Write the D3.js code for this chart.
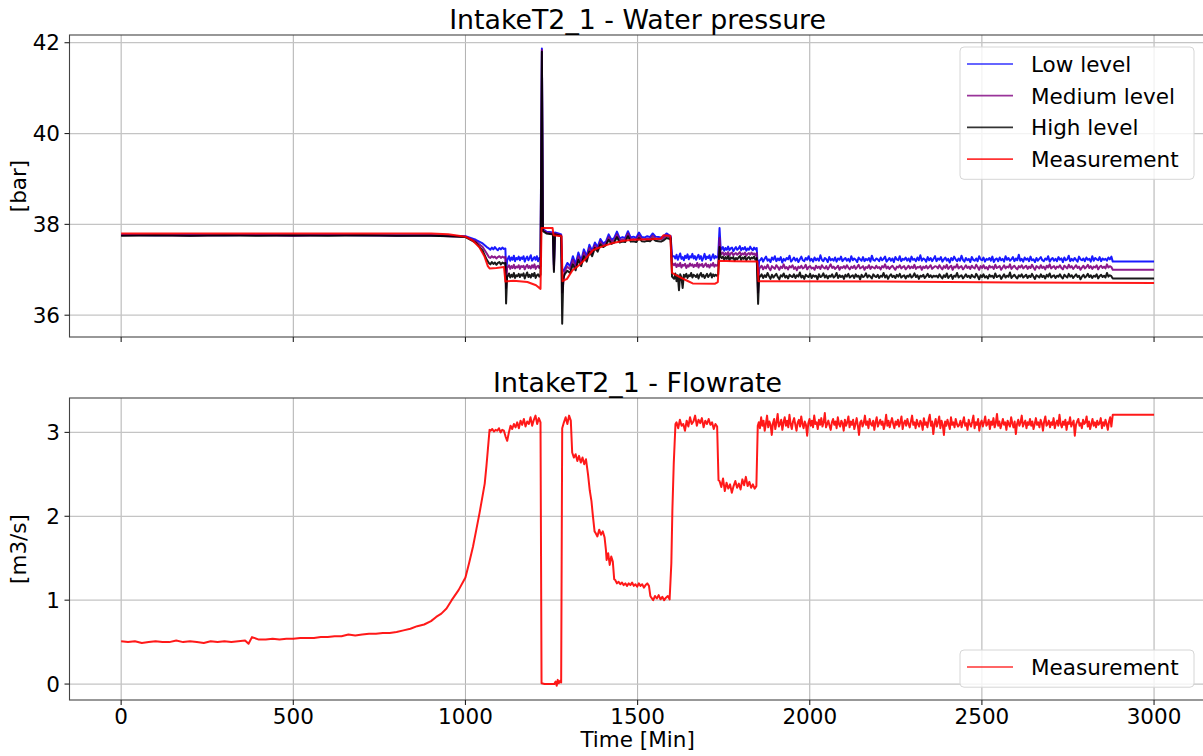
<!DOCTYPE html>
<html>
<head>
<script src="https://d3js.org/d3.v7.min.js"></script>
<style>
  body { margin: 0; background: #fff; }
  svg text { font-family: "DejaVu Sans", sans-serif; fill: #000; }
</style>
</head>
<body>
<svg id="chart"></svg>
<script>
// ---- data (minutes, value) ----
// an item is either [t, v] or a run [t0, t1, [v...]] sampled evenly from t0 to t1
const xTicks = [0, 500, 1000, 1500, 2000, 2500, 3000];
const pressureTicks = [36, 38, 40, 42];
const flowTicks = [0, 1, 2, 3];
const pressureNames = ['Low level', 'Medium level', 'High level', 'Measurement'];
const flowNames = ['Measurement'];

const lowLevel = [
  [0,37.77],[100,37.76],[200,37.77],[300,37.76],[400,37.77],[500,37.76],[600,37.77],[700,37.76],[800,37.76],[900,37.76],
  [950,37.75],[1000,37.74],[1030,37.66],[1050,37.58],[1062,37.5],
  [1068,1116,[37.47,37.44,37.49,37.45,37.5,37.46,37.43,37.48,37.45,37.49,37.46,37.47]],
  [1118,36.95],[1121,37.2],
  [1123,1218,[37.24,37.3,37.2,37.27,37.22,37.31,37.19,37.26,37.23,37.29,37.21,37.27,37.24,37.3,
    37.18,37.25,37.29,37.21,37.26,37.32,37.2,37.24,37.28,37.22,37.3,37.19,37.26,37.23]],
  [1222,41.87],[1225,37.9],[1235,37.84],[1245,37.83],[1254,37.82],[1257,37.1],[1260,37.82],[1270,37.8],[1278,37.78],[1281,36.95],
  [1288,1592,[37.02,37.15,37.08,37.3,37.12,37.38,37.2,37.45,37.3,37.55,37.42,37.6,37.5,37.68,37.58,37.62,37.78,37.66,37.7,37.84,
    37.69,37.72,37.7,37.85,37.71,37.73,37.7,37.82,37.72,37.71,37.74,37.72,37.8,37.73,37.72,37.71,37.74,37.8,37.76]],
  [1596,37.74],[1600,37.3],
  [1606,1730,[37.3,37.25,37.33,37.22,37.29,37.36,37.24,37.28,37.21,37.31,37.26,37.34,37.23,37.3,37.27,37.35,37.25,37.3,
    37.22,37.28,37.33,37.24,37.3,37.2,37.27,37.35,37.23,37.29,37.26,37.32,37.21,37.28,37.34,37.25,37.3,37.27]],
  [1734,37.3],[1738,37.92],[1741,37.5],
  [1744,1846,[37.45,37.5,37.42,37.48,37.44,37.51,37.43,37.47,37.49,37.41,37.46,37.5,37.44,37.47,
    37.52,37.43,37.48,37.45,37.5,37.42,37.47,37.44,37.51,37.46,37.43,37.49,37.45,37.48]],
  [1850,36.9],[1853,37.2],
  [1856,2876,[37.21,37.26,37.18,37.24,37.29,37.2,37.23,37.17,37.27,37.22,37.3,37.19,37.25,37.21,37.28,37.16,37.24,37.2,37.26,37.23,
    37.31,37.18,37.22,37.27,37.2,37.25,37.17,37.23,37.29,37.21,37.19,37.26,37.22,37.3,37.2,37.24,37.18,37.27,37.21,37.25,
    37.2,37.32,37.22,37.19,37.26,37.23,37.17,37.28,37.21,37.24,37.2,37.27,37.18,37.25,37.22,37.29,37.19,37.23,37.26,37.2,
    37.24,37.18,37.3,37.21,37.25,37.22,37.17,37.27,37.23,37.2,37.28,37.19,37.24,37.21,37.26,37.18,37.31,37.22,37.2,37.25,
    37.23,37.19,37.27,37.21,37.24,37.29,37.18,37.22,37.26,37.2,37.25,37.17,37.28,37.23,37.21,37.3,37.19,37.24,37.22,37.27,
    37.2,37.25,37.18,37.29,37.22,37.24,37.19,37.27,37.21,37.32,37.2,37.25,37.23,37.18,37.28,37.21,37.26,37.19,37.24,37.3,
    37.19,37.25,37.22,37.28,37.18,37.23,37.27,37.2,37.24,37.16,37.26,37.21,37.29,37.23,37.19,37.25,37.2,37.31,37.22,37.18,
    37.26,37.21,37.24,37.17,37.28,37.22,37.2,37.25,37.19,37.3,37.23,37.21,37.27,37.18,37.24,37.22,37.26,37.2,37.29,37.17,
    37.23,37.25,37.19,37.27,37.21,37.24,37.18,37.3,37.22,37.26,37.2,37.23,37.28,37.19,37.25,37.21,37.33,37.2,37.24,37.18,
    37.27,37.22,37.25,37.19,37.29,37.21,37.23,37.17,37.26,37.2,37.24,37.28,37.21,37.19,37.25,37.22,37.3,37.18,37.23,37.26,
    37.2,37.24,37.19,37.28,37.22,37.25,37.17,37.27,37.21,37.23,37.31,37.19,37.24,37.2,37.26,37.22,37.18,37.29,37.23,37.21,
    37.25,37.19,37.27,37.22,37.24,37.18,37.3,37.2,37.26,37.23,37.21,37.28,37.19,37.25,37.22,37.24,37.2,37.27,37.23,37.29]],
  [2880,37.18],[3000,37.18]
];

const mediumLevel = [
  [0,37.76],[100,37.76],[200,37.75],[300,37.76],[400,37.76],[500,37.75],[600,37.76],[700,37.76],[800,37.75],[900,37.76],
  [950,37.74],[1000,37.73],[1030,37.63],[1050,37.5],[1062,37.36],
  [1068,1116,[37.28,37.26,37.3,37.27,37.29,37.25,37.28,37.3,37.26,37.29,37.27,37.28]],
  [1118,36.6],[1121,37.05],
  [1123,1218,[37.06,37.1,37.02,37.08,37.04,37.11,37.03,37.07,37.05,37.1,37.02,37.08,37.06,37.09,
    37.01,37.07,37.11,37.04,37.08,37.03,37.1,37.05,37.12,37.02,37.07,37.09,37.04,37.08]],
  [1222,41.84],[1225,37.88],[1235,37.82],[1245,37.81],[1254,37.8],[1257,37.0],[1260,37.8],[1270,37.78],[1278,37.76],[1281,36.5],
  [1288,1592,[36.96,37.07,37.01,37.22,37.05,37.3,37.14,37.38,37.24,37.48,37.36,37.54,37.45,37.62,37.54,37.58,37.72,37.62,37.65,37.78,
    37.65,37.67,37.66,37.8,37.67,37.68,37.66,37.76,37.68,37.67,37.69,37.68,37.75,37.69,37.68,37.67,37.7,37.75,37.72]],
  [1596,37.72],[1600,37.15],
  [1606,1730,[37.1,37.14,37.06,37.12,37.08,37.15,37.05,37.11,37.09,37.13,37.04,37.1,37.07,37.14,37.09,37.12,37.06,37.11,
    37.08,37.15,37.05,37.12,37.09,37.13,37.06,37.1,37.14,37.07,37.11,37.05,37.12,37.09,37.15,37.07,37.11,37.09]],
  [1734,37.12],[1738,37.7],[1741,37.38],
  [1744,1846,[37.35,37.38,37.32,37.37,37.33,37.39,37.31,37.36,37.38,37.32,37.35,37.37,37.33,37.36,
    37.39,37.32,37.36,37.34,37.38,37.31,37.35,37.37,37.33,37.38,37.34,37.36,37.32,37.37]],
  [1850,36.5],[1853,37.02],
  [1856,2876,[37.05,37.09,37.01,37.07,37.03,37.11,37.04,36.99,37.08,37.05,37.02,37.1,37.06,37.0,37.07,37.04,37.12,37.03,37.06,37.01,
    37.08,37.05,37.1,37.02,37.06,36.99,37.07,37.04,37.09,37.03,37.05,37.11,37.01,37.06,37.08,37.03,37.05,37.0,37.09,37.04,
    37.07,37.02,37.1,37.05,37.03,37.08,37.01,37.06,37.12,37.04,37.07,37.02,37.05,37.09,37.0,37.06,37.04,37.08,37.03,37.1,
    37.05,37.01,37.07,37.04,37.09,37.02,37.06,37.11,37.03,37.05,37.08,37.0,37.06,37.04,37.1,37.02,37.07,37.05,37.03,37.09,
    37.04,37.06,37.01,37.08,37.05,37.12,37.03,37.07,37.02,37.06,37.09,37.04,37.0,37.07,37.05,37.1,37.03,37.06,37.08,37.01,
    37.05,37.09,37.03,37.07,37.04,37.11,37.02,37.06,37.05,37.08,37.0,37.07,37.04,37.09,37.03,37.06,37.1,37.02,37.05,37.08,
    37.07,37.03,37.1,37.05,37.01,37.08,37.04,37.11,37.02,37.06,37.09,37.0,37.07,37.05,37.12,37.03,37.06,37.08,37.01,37.05,
    37.1,37.04,37.07,37.02,37.09,37.05,37.03,37.11,37.06,37.0,37.08,37.04,37.1,37.03,37.06,37.01,37.09,37.05,37.07,37.02,
    37.11,37.04,37.06,37.08,37.0,37.05,37.1,37.03,37.07,37.05,37.12,37.02,37.06,37.09,37.04,37.01,37.08,37.05,37.1,37.03,
    37.06,37.09,37.02,37.07,37.04,37.11,37.05,37.0,37.08,37.06,37.03,37.1,37.04,37.07,37.01,37.09,37.05,37.12,37.03,37.06,
    37.08,37.02,37.07,37.05,37.1,37.04,37.01,37.09,37.06,37.03,37.11,37.05,37.08,37.02,37.06,37.1,37.04,37.07,37.0,37.05,
    37.09,37.03,37.06,37.11,37.04,37.08,37.02,37.07,37.05,37.1,37.01,37.06,37.09,37.04,37.07,37.03,37.12,37.05,37.08,37.06]],
  [2880,37.0],[3000,37.0]
];

const highLevel = [
  [0,37.75],[100,37.76],[200,37.75],[300,37.76],[400,37.75],[500,37.76],[600,37.75],[700,37.76],[800,37.75],[900,37.75],
  [950,37.74],[1000,37.72],[1030,37.6],[1050,37.42],[1062,37.22],
  [1068,1116,[37.15,37.12,37.17,37.13,37.16,37.11,37.15,37.17,37.12,37.16,37.14,37.15]],
  [1118,36.26],[1121,36.85],
  [1123,1218,[36.86,36.92,36.83,36.89,36.85,36.93,36.82,36.88,36.86,36.91,36.84,36.9,36.87,36.92,
    36.81,36.88,36.94,36.84,36.89,36.83,36.91,36.86,36.93,36.82,36.88,36.9,36.85,36.89]],
  [1222,41.8],[1225,37.85],[1235,37.8],[1245,37.79],[1254,37.78],[1257,36.95],[1260,37.78],[1270,37.76],[1278,37.74],[1281,35.81],[1284,36.8],
  [1288,1592,[36.9,36.98,36.93,37.12,36.99,37.22,37.08,37.3,37.18,37.4,37.3,37.48,37.4,37.56,37.5,37.54,37.66,37.57,37.6,37.72,
    37.6,37.62,37.61,37.74,37.62,37.63,37.61,37.7,37.63,37.62,37.64,37.63,37.69,37.64,37.63,37.62,37.65,37.7,37.68]],
  [1596,37.7],[1600,36.85],
  [1606,1730,[36.8,36.92,36.75,36.88,36.55,36.9,36.84,36.6,36.89,36.85,36.91,36.82,36.88,36.86,36.93,36.83,36.89,36.87,
    36.84,36.9,36.81,36.88,36.93,36.85,36.89,36.82,36.87,36.91,36.84,36.88,36.92,36.83,36.9,36.86,36.89,36.87]],
  [1734,36.9],[1738,37.5],[1741,37.28],
  [1744,1846,[37.26,37.29,37.22,37.28,37.24,37.3,37.21,37.27,37.25,37.28,37.2,37.26,37.23,37.27,
    37.3,37.22,37.27,37.24,37.29,37.21,37.26,37.28,37.23,37.27,37.25,37.29,37.22,37.26]],
  [1850,36.25],[1853,36.85],
  [1856,2876,[36.85,36.9,36.82,36.88,36.84,36.93,36.86,36.8,36.89,36.83,36.87,36.91,36.84,36.79,36.88,36.85,36.92,36.83,36.87,36.81,
    36.89,36.86,36.84,36.9,36.82,36.88,36.85,36.94,36.83,36.87,36.8,36.89,36.86,36.84,36.91,36.82,36.88,36.85,36.87,36.79,
    36.9,36.84,36.86,36.92,36.83,36.88,36.81,36.87,36.85,36.9,36.83,36.86,36.93,36.82,36.88,36.84,36.87,36.8,36.89,36.85,
    36.91,36.83,36.86,36.88,36.82,36.9,36.85,36.87,36.79,36.89,36.84,36.86,36.92,36.83,36.88,36.85,36.81,36.9,36.86,36.84,
    36.89,36.82,36.87,36.85,36.93,36.83,36.88,36.8,36.86,36.9,36.84,36.87,36.82,36.89,36.85,36.91,36.83,36.86,36.88,36.81,
    36.87,36.85,36.9,36.83,36.86,36.92,36.84,36.88,36.8,36.87,36.85,36.89,36.82,36.86,36.91,36.84,36.88,36.83,36.87,36.85,
    36.87,36.83,36.9,36.85,36.81,36.88,36.84,36.92,36.82,36.86,36.89,36.8,36.87,36.85,36.93,36.83,36.86,36.88,36.81,36.85,
    36.9,36.84,36.87,36.82,36.89,36.85,36.83,36.91,36.86,36.79,36.88,36.84,36.9,36.83,36.86,36.81,36.89,36.85,36.87,36.82,
    36.92,36.84,36.86,36.88,36.8,36.85,36.9,36.83,36.87,36.85,36.94,36.82,36.86,36.89,36.84,36.81,36.88,36.85,36.9,36.83,
    36.86,36.89,36.82,36.87,36.84,36.91,36.85,36.8,36.88,36.86,36.83,36.9,36.84,36.87,36.81,36.89,36.85,36.92,36.83,36.86,
    36.88,36.82,36.87,36.85,36.9,36.84,36.81,36.89,36.86,36.83,36.91,36.85,36.88,36.82,36.86,36.9,36.84,36.87,36.79,36.85,
    36.89,36.83,36.86,36.91,36.84,36.88,36.82,36.87,36.85,36.9,36.81,36.86,36.89,36.84,36.87,36.83,36.93,36.85,36.88,36.86]],
  [2880,36.81],[3000,36.81]
];

const pressureMeasured = [
  [0,37.8],[300,37.8],[600,37.8],[900,37.8],[950,37.78],[1000,37.73],[1020,37.65],[1040,37.5],[1055,37.3],[1065,37.08],
  [1070,37.03],[1090,37.04],[1112,37.06],[1116,36.74],[1140,36.76],[1180,36.73],[1205,36.66],[1218,36.58],
  [1221,37.92],[1253,37.92],[1256,37.76],[1279,37.74],[1282,36.75],[1295,36.8],[1311,36.99],[1330,37.1],[1350,37.25],
  [1370,37.43],[1400,37.52],[1428,37.59],[1460,37.64],[1486,37.66],[1540,37.67],[1568,37.69],[1575,37.76],[1595,37.75],
  [1600,36.93],[1620,36.85],[1641,36.77],[1660,36.7],[1724,36.69],[1733,36.73],[1736,37.2],[1780,37.19],[1848,37.18],
  [1851,36.75],[2200,36.74],[2600,36.72],[3000,36.71]
];

const flowMeasured = [
  [0,360,[0.51,0.5,0.51,0.49,0.5,0.51,0.5,0.5,0.52,0.5,0.51,0.5,0.49,0.51,0.5,0.51,0.5,0.51,0.52]],
  [370,0.48],[380,0.56],[400,0.53],
  [420,900,[0.53,0.54,0.53,0.54,0.54,0.55,0.55,0.55,0.56,0.56,0.57,0.57,0.59,0.58,0.59,0.6,0.6,0.61,0.61,0.62,0.64,0.66,0.69,0.71,0.75]],
  [915,0.8],[930,0.84],[945,0.9],[960,1.0],[980,1.12],[1000,1.27],[1011,1.45],[1022,1.64],[1032,1.85],[1041,2.04],
  [1050,2.25],[1056,2.39],[1061,2.6],[1065,2.79],[1070,3.03],
  [1073,1218,[3.02,3.04,3.01,3.03,3.02,3.05,3.0,3.03,3.02,2.95,2.9,3.0,3.08,3.04,3.1,3.06,3.12,3.05,3.14,3.09,
    3.16,3.07,3.13,3.1,3.18,3.08,3.15,3.2,3.1,3.17,3.12]],
  [1221,0.01],[1230,0.0],[1258,0.0],[1262,0.03],[1265,-0.02],[1268,0.05],[1271,0.01],[1275,0.04],[1278,0.02],
  [1281,1306,[3.05,3.12,3.18,3.1,3.2,3.14]],
  [1310,1350,[2.76,2.7,2.74,2.66,2.72,2.64,2.7,2.62,2.68]],
  [1356,2.5],[1361,2.31],[1366,2.18],[1370,2.01],[1375,1.82],
  [1378,1404,[1.8,1.76,1.84,1.78,1.82,1.75]],
  [1408,1.6],
  [1410,1428,[1.48,1.56,1.42,1.52,1.46]],
  [1432,1.25],
  [1435,1533,[1.24,1.2,1.22,1.19,1.21,1.18,1.2,1.17,1.2,1.18,1.21,1.17,1.19,1.16,1.2,1.17,1.19,1.15,1.18,1.2,1.17]],
  [1537,1.05],
  [1540,1593,[1.03,1.0,1.05,1.02,1.06,1.01,1.04,1.0,1.03,1.05,1.01]],
  [1598,1.44],[1601,2.07],[1605,2.63],[1610,3.1],
  [1613,1731,[3.12,3.05,3.15,3.08,3.1,3.02,3.14,3.07,3.18,3.1,3.13,3.2,3.08,3.15,3.11,3.17,3.06,3.14,3.1,3.16,
    3.09,3.12,3.04,3.1,3.07]],
  [1735,2.43],
  [1738,1845,[2.42,2.35,2.45,2.3,2.4,2.33,2.38,2.28,2.36,2.42,2.34,2.39,2.32,2.44,2.37,2.47,2.36,2.41,2.34,2.38,2.33,2.36]],
  [1849,3.08],
  [1852,2876,[3.12,3.05,3.18,3.08,3.14,3.02,3.1,3.2,3.06,3.13,3.09,2.97,3.11,3.16,3.04,3.12,3.22,3.07,3.1,3.15,
    3.03,3.12,3.18,3.08,3.14,3.06,3.21,3.1,3.04,3.13,3.17,3.09,3.02,3.12,3.15,3.07,3.19,3.1,3.05,3.13,
    3.09,2.96,3.11,3.16,3.08,3.14,3.06,3.2,3.1,3.12,3.04,3.15,3.09,3.17,3.07,3.12,3.23,3.06,3.1,3.14,
    3.08,3.03,3.12,3.16,3.09,3.13,3.05,3.18,3.1,3.07,3.14,3.11,3.02,3.15,3.08,3.12,3.19,3.06,3.13,3.09,
    3.15,3.04,3.1,3.17,3.08,2.97,3.12,3.14,3.07,3.11,3.2,3.09,3.13,3.05,3.16,3.1,3.08,3.14,3.03,3.12,
    3.18,3.07,3.11,3.15,3.09,3.13,3.04,3.1,3.21,3.08,3.14,3.06,3.12,3.17,3.1,3.05,3.13,3.09,3.15,3.07,
    3.12,3.19,3.04,3.11,3.14,3.08,3.16,3.1,3.06,3.13,3.2,3.09,3.12,3.05,3.15,3.1,3.07,3.14,3.11,3.03,
    3.17,3.09,3.12,3.06,3.15,3.21,3.08,3.13,2.98,3.1,3.16,3.07,3.12,3.19,3.05,3.14,3.09,2.97,3.13,3.08,
    3.15,3.1,3.04,3.18,3.09,3.12,3.06,3.16,3.1,3.07,
    3.09,3.14,3.06,3.12,3.18,3.08,3.11,3.03,3.15,3.1,3.07,3.13,3.2,3.05,3.12,3.09,3.16,3.02,3.11,3.14,
    3.07,3.12,3.19,3.08,3.1,3.15,3.04,3.13,3.09,3.17,3.06,3.11,3.22,3.08,3.13,3.05,3.1,3.16,3.09,3.12,
    3.03,3.14,3.1,3.07,3.18,3.11,3.06,3.13,2.98,3.1,3.15,3.08,3.12,3.2,3.07,3.11,3.14,3.05,3.12,3.09,
    3.16,3.08,3.13,3.04,3.1,3.17,3.09,3.12,3.06,3.15,3.11,3.02,3.13,3.19,3.08,3.1,3.14,3.06,3.12,3.09,
    3.17,3.05,3.11,3.14,3.08,3.21,3.1,3.06,3.13,3.09,3.15,3.03,3.12,3.1,3.18,3.07,3.11,3.14,2.96,3.09,
    3.13,3.16,3.08,3.11,3.05,3.15,3.1,3.12,3.19,3.07,3.13,3.04,3.1,3.16,3.08,3.12,3.06,3.14,3.09,3.11,
    3.17,3.05,3.12,3.08,3.15,3.1,3.03,3.13,3.18,3.07]],
  [2880,3.21],[3000,3.21]
];

// turn items into [t, v] points
function expand(items) {
  let pts = [];
  items.forEach(it => {
    if (it.length === 2) { pts.push(it); return; }
    let n = it[2].length;
    it[2].forEach((v, i) => pts.push([it[0] + (it[1] - it[0]) * i / (n - 1), v]));
  });
  return pts;
}

const W = 1203, H = 756;
const svg = d3.select('#chart').attr('width', W).attr('height', H);

const left = 69.5, right = 1205.7;
const x = d3.scaleLinear().domain([-150, 3150]).range([left, right]);

const fontSize = 21.5;

function panel(cfg) {
  const y = d3.scaleLinear().domain(cfg.yDomain).range([cfg.bottom, cfg.top]);
  const g = svg.append('g');

  g.append('clipPath').attr('id', cfg.id)
    .append('rect').attr('x', left).attr('y', cfg.top)
    .attr('width', right - left).attr('height', cfg.bottom - cfg.top);

  // grid
  g.selectAll('.vgrid').data(xTicks).join('line')
    .attr('x1', d => x(d)).attr('x2', d => x(d))
    .attr('y1', cfg.top).attr('y2', cfg.bottom)
    .attr('stroke', '#b0b0b0').attr('stroke-width', 1);
  g.selectAll('.hgrid').data(cfg.yTicks).join('line')
    .attr('x1', left).attr('x2', right)
    .attr('y1', d => y(d)).attr('y2', d => y(d))
    .attr('stroke', '#c4c4c4').attr('stroke-width', 1.3);

  // lines
  const line = d3.line().x(d => x(d[0])).y(d => y(d[1]));
  const lines = g.append('g').attr('clip-path', `url(#${cfg.id})`);
  cfg.series.forEach((s, i) => {
    lines.append('path').datum(expand(s))
      .attr('d', line).attr('fill', 'none')
      .attr('stroke', cfg.colors[i]).attr('stroke-width', 2)
      .attr('stroke-opacity', 0.9).attr('stroke-linejoin', 'round');
  });

  // spines
  g.append('rect').attr('x', left).attr('y', cfg.top)
    .attr('width', right - left).attr('height', cfg.bottom - cfg.top)
    .attr('fill', 'none').attr('stroke', '#444').attr('stroke-width', 1.1);

  // y ticks
  const yt = g.selectAll('.yt').data(cfg.yTicks).join('g')
    .attr('transform', d => `translate(${left},${y(d)})`);
  yt.append('line').attr('x1', -5).attr('x2', 0).attr('stroke', '#222').attr('stroke-width', 1.1);
  yt.append('text').attr('x', -9.5).attr('dy', '0.36em')
    .attr('text-anchor', 'end').style('font-size', fontSize + 'px')
    .text(d => d);

  // x ticks
  const xt = g.selectAll('.xt').data(xTicks).join('g')
    .attr('transform', d => `translate(${x(d)},${cfg.bottom})`);
  xt.append('line').attr('y1', 0).attr('y2', 5).attr('stroke', '#222').attr('stroke-width', 1.1);
  if (cfg.xLabels) {
    xt.append('text').attr('y', 23.5).attr('text-anchor', 'middle')
      .style('font-size', fontSize + 'px').text(d => d);
  }

  // title and y label
  g.append('text').attr('x', (left + right) / 2).attr('y', cfg.top - 6)
    .attr('text-anchor', 'middle').style('font-size', '26.8px').text(cfg.title);
  g.append('text')
    .attr('transform', `translate(26,${(cfg.top + cfg.bottom) / 2}) rotate(-90)`)
    .attr('text-anchor', 'middle').style('font-size', fontSize + 'px').text(cfg.yLabel);

  // legend
  const lg = g.append('g').attr('transform', `translate(960,${cfg.legendTop})`);
  const rowH = 31.7;
  lg.append('rect').attr('x', 0).attr('y', 0).attr('width', 234)
    .attr('height', cfg.names.length * rowH + 5.5).attr('rx', 4)
    .attr('fill', '#fff').attr('fill-opacity', 0.8)
    .attr('stroke', '#d6d6d6').attr('stroke-width', 1);
  cfg.names.forEach((n, i) => {
    const cy = 17 + i * rowH;
    lg.append('line').attr('x1', 7).attr('x2', 53).attr('y1', cy).attr('y2', cy)
      .attr('stroke', cfg.colors[i]).attr('stroke-width', 1.7).attr('stroke-opacity', 0.8);
    lg.append('text').attr('x', 71).attr('y', cy + 8)
      .style('font-size', fontSize + 'px').text(n);
  });
}

panel({
  id: 'clipP', top: 35, bottom: 337, yDomain: [35.52, 42.17], yTicks: pressureTicks,
  series: [lowLevel, mediumLevel, highLevel, pressureMeasured],
  colors: ['#0000ff', '#800080', '#000000', '#ff0000'],
  names: pressureNames, title: 'IntakeT2_1 - Water pressure', yLabel: '[bar]',
  legendTop: 47, xLabels: false
});

panel({
  id: 'clipF', top: 398, bottom: 700, yDomain: [-0.19, 3.41], yTicks: flowTicks,
  series: [flowMeasured], colors: ['#ff0000'],
  names: flowNames, title: 'IntakeT2_1 - Flowrate', yLabel: '[m3/s]',
  legendTop: 650, xLabels: true
});

svg.append('text').attr('x', (left + right) / 2).attr('y', 747)
  .attr('text-anchor', 'middle').style('font-size', fontSize + 'px').text('Time [Min]');
</script>
</body>
</html>
